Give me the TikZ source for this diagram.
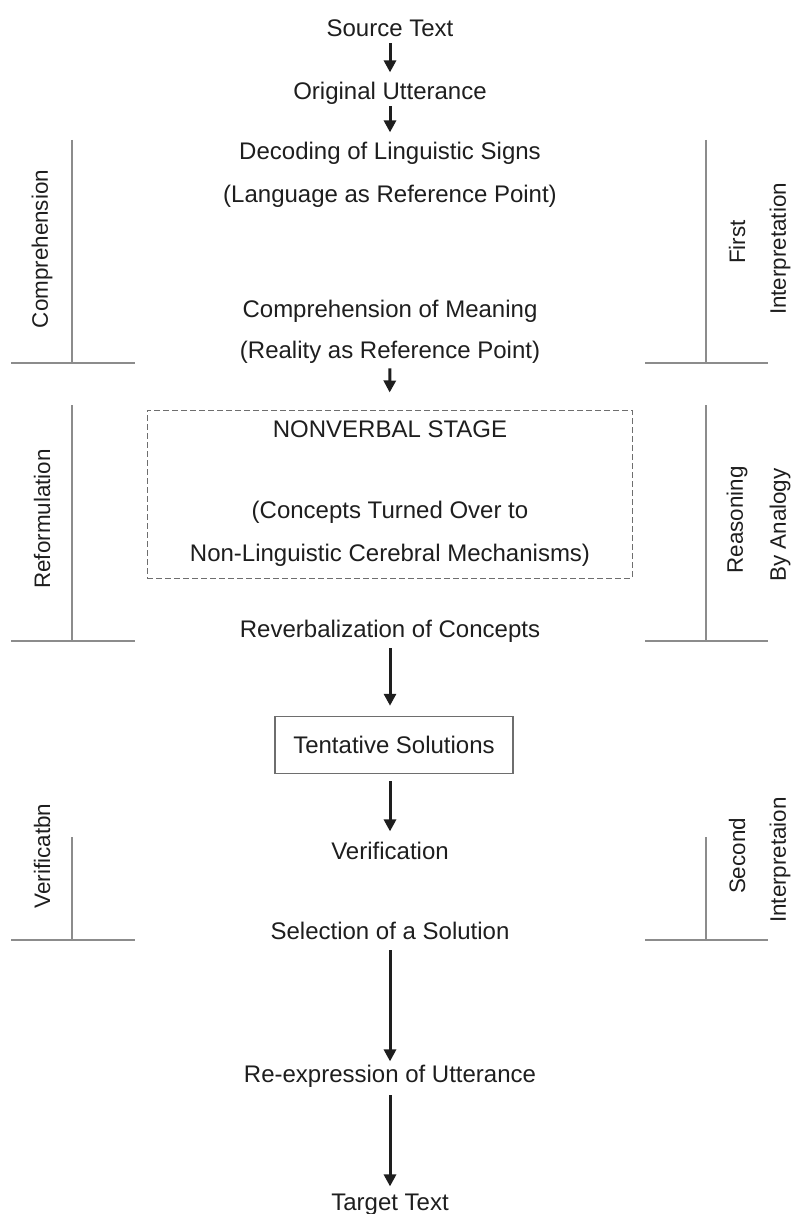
\documentclass[tikz,border=0pt]{standalone}
\usepackage{fontspec}
\setmainfont{Liberation Sans}
\usetikzlibrary{arrows.meta}
\definecolor{linegray}{HTML}{8C8C8C}
\definecolor{boxgray}{HTML}{6E6E6E}
\definecolor{inkblack}{HTML}{1E1E1E}
\tikzset{
  lbl/.style={anchor=base, inner sep=0pt, text height=8.6pt, text depth=0pt,
    font=\fontsize{12}{14}\selectfont, text=inkblack},
  side/.style={rotate=90, inner sep=0pt, font=\fontsize{11.2}{13}\selectfont, text=inkblack},
  flow/.style={-{Triangle[width=6pt,length=6pt]}, line width=1.5pt, inkblack,
    shorten <=3pt, shorten >=5pt},
  bracket/.style={draw=linegray, line width=1pt},
  stagebox/.style={draw=boxgray, line width=0.5pt, dash pattern=on 3pt off 1.5pt,
    minimum width=242.5pt, minimum height=84pt, inner sep=0pt},
  solbox/.style={draw=boxgray, line width=0.75pt, minimum width=119pt, minimum height=28.5pt,
    inner sep=0pt, text height=8.6pt, text depth=0pt, font=\fontsize{12}{14}\selectfont, text=inkblack}
}
\begin{document}
\begin{tikzpicture}[x=0.5pt,y=-0.5pt]
\useasboundingbox (0,0) rectangle (795,1214);
% main column
\node[lbl] (src) at (390,37) {Source Text};
\node[lbl] (orig) at (390,100) {Original Utterance};
\node[lbl] (decode) at (390,160) {Decoding of Linguistic Signs};
\node[lbl] (lang) at (390,203) {(Language as Reference Point)};
\node[lbl] (meaning) at (390,317) {Comprehension of Meaning};
\node[lbl] (reality) at (390,358) {(Reality as Reference Point)};
\node[stagebox] (stage) at (389.5,494) {};
\node[lbl] (nonverbal) at (390,437) {NONVERBAL STAGE};
\node[lbl] (concepts) at (390,518) {(Concepts Turned Over to};
\node[lbl] (mech) at (390,561) {Non-Linguistic Cerebral Mechanisms)};
\node[lbl] (reverb) at (390,637) {Reverbalization of Concepts};
\node[solbox] (tent) at (394,745) {Tentative Solutions};
\node[lbl] (verif) at (390,859) {Verification};
\node[lbl] (select) at (390,939) {Selection of a Solution};
\node[lbl] (reexp) at (390,1082) {Re-expression of Utterance};
\node[lbl] (target) at (390,1210) {Target Text};
% arrows
\draw[flow] (src.south) -- (orig.north);
\draw[flow] (orig.south) -- (decode.north);
\draw[flow, shorten <=5pt, shorten >=8.5pt] (reality.south) -- (stage.north);
\draw[flow, shorten <=5.5pt] (reverb.south) -- (reverb.south |- tent.north);
\draw[flow, shorten <=3.5pt] (tent.south -| verif) -- (verif.north);
\draw[flow, shorten <=5.5pt, shorten >=1.5pt] (select.south) -- (reexp.north);
\draw[flow, shorten <=6.5pt, shorten >=3pt] (reexp.south) -- (target.north);
% side brackets
\foreach \ya/\yb in {140/363, 405/641, 837/940}{
  \draw[bracket] (72,\ya) -- (72,\yb) (11,\yb) -- (135,\yb);
  \draw[bracket] (706,\ya) -- (706,\yb) (645,\yb) -- (768,\yb);
}
\node[side] (comp) at (42,249) {Comprehension};
\node[side] (first) at (737,242) {First};
\node[side] (interpa) at (780,249) {Interpretation};
\node[side] (reform) at (42,519) {Reformulation};
\node[side] (reason) at (737,520) {Reasoning};
\node[side] (analogy) at (780,525) {By Analogy};
\node[side] (verlab) at (42,856) {Verificatbn};
\node[side] (second) at (737,856) {Second};
\node[side] (interpb) at (780,860) {Interpretaion};
\end{tikzpicture}
\end{document}
